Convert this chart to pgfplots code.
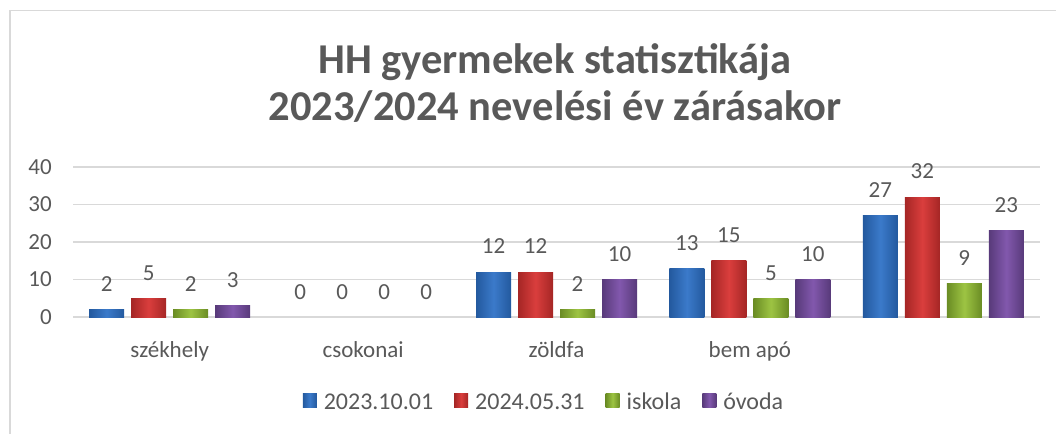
\documentclass[border=0pt]{standalone}
\usepackage{pgfplots}
\pgfplotsset{compat=1.18}
\usepackage{fontspec}
\setmainfont{Carlito}
\definecolor{txt}{HTML}{595959}
\definecolor{gridc}{HTML}{D9D9D9}
\definecolor{bA}{HTML}{3B7ACA}\definecolor{bAd}{HTML}{23599E}
\definecolor{rA}{HTML}{DA3E3D}\definecolor{rAd}{HTML}{A52625}
\definecolor{gA}{HTML}{9DC443}\definecolor{gAd}{HTML}{6A8C24}
\definecolor{pA}{HTML}{8258AD}\definecolor{pAd}{HTML}{583A7A}
\pgfplotsset{
  sb/.style={draw=none, left color=bAd, right color=bAd, middle color=bA, bar shift=-63bp},
  sr/.style={draw=none, left color=rAd, right color=rAd, middle color=rA, bar shift=-21bp},
  sg/.style={draw=none, left color=gAd, right color=gAd, middle color=gA, bar shift=21bp},
  sp/.style={draw=none, left color=pAd, right color=pAd, middle color=pA, bar shift=63bp},
}
\begin{document}
\begin{tikzpicture}
\useasboundingbox (-73bp,-117bp) rectangle (983bp,317bp);
\draw[gridc, line width=1.3bp] (-63bp,-117bp) -- (-63bp,306.3bp) -- (983bp,306.3bp);
\begin{axis}[
  at={(0,0)}, anchor=south west,
  scale only axis, width=967bp, height=150bp,
  xmin=-0.5, xmax=4.5, ymin=0, ymax=40,
  axis line style={draw=none},
  ybar, bar width=35bp,
  xtick={0,1,2,3,4}, xticklabels={székhely,csokonai,zöldfa,bem apó,{}},
  ytick={0,10,20,30,40},
  major tick length=0pt,
  xmajorgrids=false, ymajorgrids=true,
  grid style={draw=gridc, line width=1.5bp},
  /pgf/number format/assume math mode=true,
  tick label style={font=\fontsize{23bp}{27bp}\selectfont, text=txt},
  yticklabel style={anchor=east, inner sep=0pt, xshift=-21bp},
  xticklabel style={anchor=base, inner sep=0pt, yshift=-40bp},
  nodes near coords,
  every node near coord/.append style={font=\fontsize{23bp}{27bp}\selectfont, text=txt, anchor=base, inner sep=0pt, yshift=18bp},
  legend columns=-1,
  legend style={at={(471bp,-85bp)}, anchor=center, draw=none, fill=none,
    font=\fontsize{24bp}{28bp}\selectfont, text=txt,
    nodes={inner sep=2bp},
    /tikz/every even column/.append style={column sep=19bp}},
  legend image code/.code={\path[#1,draw=none] (0bp,-5bp) rectangle (14bp,9bp); \path (19bp,0bp);},
]
% first bar of each series carries the legend entry
\addplot[sb] coordinates {(0,2)};
\addplot[sr] coordinates {(0,5)};
\addplot[sg] coordinates {(0,2)};
\addplot[sp] coordinates {(0,3)};
\legend{2023.10.01,2024.05.31,iskola,óvoda}
% 2023.10.01
\addplot[sb, forget plot] coordinates {(1,0)};
\addplot[sb, forget plot] coordinates {(2,12)};
\addplot[sb, forget plot] coordinates {(3,13)};
\addplot[sb, forget plot] coordinates {(4,27)};
% 2024.05.31
\addplot[sr, forget plot] coordinates {(1,0)};
\addplot[sr, forget plot] coordinates {(2,12)};
\addplot[sr, forget plot] coordinates {(3,15)};
\addplot[sr, forget plot] coordinates {(4,32)};
% iskola
\addplot[sg, forget plot] coordinates {(1,0)};
\addplot[sg, forget plot] coordinates {(2,2)};
\addplot[sg, forget plot] coordinates {(3,5)};
\addplot[sg, forget plot] coordinates {(4,9)};
% óvoda
\addplot[sp, forget plot] coordinates {(1,0)};
\addplot[sp, forget plot] coordinates {(2,10)};
\addplot[sp, forget plot] coordinates {(3,10)};
\addplot[sp, forget plot] coordinates {(4,23)};
\end{axis}
\node[align=center, text=txt, font=\fontsize{42.5bp}{47bp}\selectfont\bfseries] at (482bp,233.5bp) {HH gyermekek statisztikája\\2023/2024 nevelési év zárásakor};
\end{tikzpicture}
\end{document}
